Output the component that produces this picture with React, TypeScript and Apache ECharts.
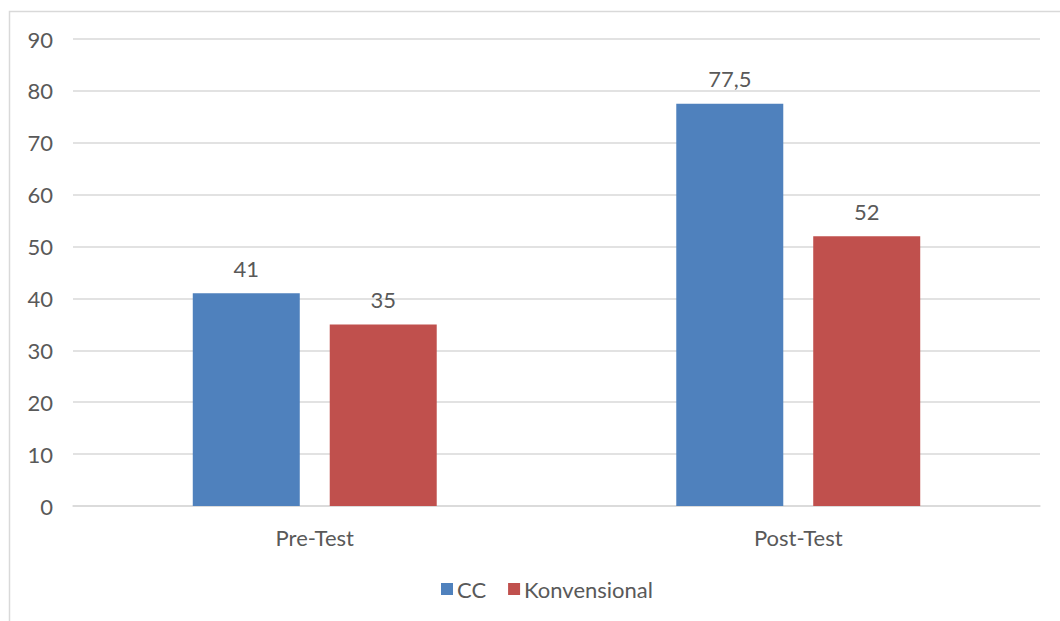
import React, { useEffect, useRef } from "react";
import * as echarts from "echarts";

const categories = ["Pre-Test", "Post-Test"];
const ccValues = [41, 77.5];
const konvValues = [35, 52];
const seriesNames = ["CC", "Konvensional"];

const FONT = "Lato, 'Open Sans', sans-serif";
const TEXT = "#595959";
const FS = 22;

export default function App() {
  const ref = useRef<HTMLDivElement>(null);
  useEffect(() => {
    if (!ref.current) return;
    const chart = echarts.init(ref.current, undefined, { renderer: "svg" });
    const label = {
      show: true,
      position: "top",
      distance: 14,
      color: TEXT,
      fontSize: FS,
      fontFamily: FONT,
      formatter: (p: any) => String(p.value).replace(".", ","),
    };
    chart.setOption({
      animation: false,
      backgroundColor: "#ffffff",
      textStyle: { fontFamily: FONT },
      graphic: [
        {
          type: "rect",
          shape: { x: 9.5, y: 11.5, width: 1200, height: 800 },
          style: { fill: "none", stroke: "#D9D9D9", lineWidth: 1.5 },
          silent: true,
          z: -1,
        },
      ],
      grid: { left: 73, right: 20, top: 39, bottom: 115, containLabel: false },
      legend: {
        data: seriesNames,
        left: 436,
        top: 573,
        itemWidth: 12,
        itemHeight: 12,
        itemGap: 22,
        icon: "rect",
        textStyle: { color: TEXT, fontSize: FS, fontFamily: FONT, padding: [0, 0, 0, -1] },
      },
      xAxis: {
        type: "category",
        data: categories,
        axisLine: { show: true, lineStyle: { color: "#D9D9D9", width: 1.5 } },
        axisTick: { show: false },
        axisLabel: { color: TEXT, fontSize: FS, fontFamily: FONT, margin: 20 },
      },
      yAxis: {
        type: "value",
        min: 0,
        max: 90,
        interval: 10,
        axisLine: { show: false },
        axisTick: { show: false },
        axisLabel: { color: TEXT, fontSize: FS, fontFamily: FONT, margin: 20 },
        splitLine: { lineStyle: { color: "#D9D9D9", width: 1.5 } },
      },
      series: [
        {
          name: seriesNames[0],
          type: "bar",
          data: ccValues,
          barWidth: 107,
          barGap: "28%",
          itemStyle: { color: "#4F81BD" },
          label,
        },
        {
          name: seriesNames[1],
          type: "bar",
          data: konvValues,
          barWidth: 107,
          itemStyle: { color: "#C0504D" },
          label,
        },
      ],
    });
    return () => chart.dispose();
  }, []);
  return (
    <div
      ref={ref}
      style={{ position: "fixed", left: 0, top: 0, width: 1060, height: 621 }}
    />
  );
}
